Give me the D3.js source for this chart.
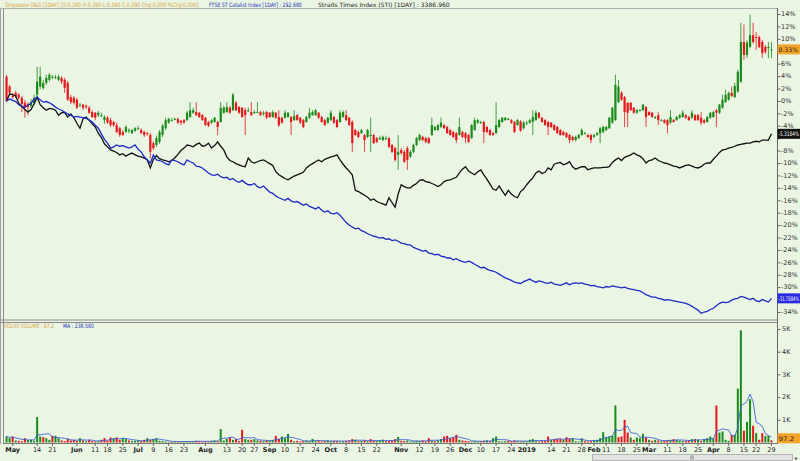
<!DOCTYPE html>
<html>
<head>
<meta charset="utf-8">
<script src="https://cdn.jsdelivr.net/npm/d3@7"></script>
<style>
body { margin: 0; background: #eaf5e4; }
svg { display: block; font-family: "DejaVu Sans", Verdana, sans-serif; }
</style>
</head>
<body>
<div id="chart-area"></div>
<script>
// SGX trading days skipped (public holidays)
var holidays = ["2018-05-01", "2018-05-29", "2018-06-15", "2018-08-09", "2018-08-22",
    "2018-11-06", "2018-12-25", "2019-01-01", "2019-02-05", "2019-02-06", "2019-04-19"];

// Singapore O&G, % change from first close
var openPct = [
    3.9, 2.3, 0.8, 1.3, 1.0, 0.5, -0.3, -0.5, -0.8, -0.3,
    1.0, 2.3, 2.1, 2.9, 3.4, 3.9, 3.9, 3.4, 3.7, 3.4,
    2.9, 0.6, 0.5, 0.2, -0.6, -0.6, -0.8, -1.1, -1.8, -1.9,
    -2.3, -2.3, -3.1, -2.7, -3.1, -3.4, -3.9, -4.4, -5.0, -5.0,
    -4.8, -5.2, -4.8, -4.4, -4.7, -5.0, -5.2, -5.5, -6.8, -7.1,
    -6.6, -5.5, -4.4, -3.5, -3.1, -2.9, -2.9, -3.2, -3.1, -3.1,
    -2.6, -1.9, -1.8, -1.9, -2.3, -2.7, -3.4, -3.5, -3.4, -3.4,
    -3.4, -1.9, -1.8, -1.1, -1.5, -0.3, -1.0, -1.1, -1.5, -1.5,
    -1.8, -1.9, -1.8, -1.8, -2.1, -1.8, -1.9, -2.6, -1.9, -2.6,
    -2.7, -2.7, -2.6, -2.6, -3.1, -2.3, -2.7, -3.1, -3.4, -2.7,
    -2.3, -2.3, -1.9, -2.6, -3.1, -3.5, -3.1, -2.6, -3.1, -3.4,
    -2.6, -2.3, -2.7, -3.4, -4.7, -5.0, -5.2, -5.5, -5.8, -5.5,
    -5.5, -6.0, -6.0, -6.3, -6.0, -6.0, -7.1, -7.6, -8.7, -7.9,
    -8.2, -7.6, -9.0, -8.2, -7.1, -6.3, -5.8, -6.0, -6.0, -5.5,
    -4.7, -4.7, -4.2, -3.9, -4.2, -4.7, -5.0, -5.2, -5.5, -5.0,
    -5.2, -5.5, -6.0, -4.7, -3.5, -3.5, -3.4, -4.2, -4.7, -5.2,
    -5.2, -4.2, -3.4, -3.1, -2.9, -3.1, -3.4, -3.9, -3.3, -4.4,
    -3.5, -3.5, -3.4, -3.1, -1.9, -2.7, -3.1, -3.4, -3.5, -3.9,
    -4.2, -4.7, -5.0, -5.2, -5.5, -5.8, -6.3, -6.0, -5.5, -5.2,
    -5.5, -5.5, -5.8, -5.5, -5.2, -5.0, -4.7, -4.4, -3.5, -3.1,
    -0.2, 1.3, 0.6, -0.3, -0.3, -1.1, -1.9, -1.5, -1.5, -1.0,
    -1.8, -1.9, -2.6, -2.3, -3.1, -3.1, -3.1, -3.5, -3.1, -3.1,
    -2.7, -2.6, -2.3, -2.6, -2.7, -2.3, -2.3, -2.7, -3.1, -3.4,
    -2.7, -2.6, -1.5, -1.9, -1.1, -0.2, 0.2, 1.3, 0.6, 1.5,
    3.1, 9.5, 7.4, 8.7, 10.6, 10.3, 10.3, 9.5, 8.7, 8.5, 8.3];
var highPct = [
    4.2, 2.6, 1.3, 1.6, 1.3, 0.8, 0.2, -0.2, 0.3, 1.0,
    5.5, 5.5, 3.4, 4.2, 4.5, 4.2, 4.2, 4.2, 4.0, 3.7,
    3.2, 1.0, 0.8, 0.5, -0.3, -0.5, -0.6, -0.8, -1.5, -1.8,
    -1.6, -1.9, -2.3, -2.4, -2.7, -3.2, -3.5, -4.2, -4.7, -3.9,
    -4.4, -4.5, -4.2, -4.0, -4.4, -4.8, -5.0, -5.2, -6.5, -5.6,
    -4.7, -3.7, -2.7, -2.7, -2.7, -2.7, -2.7, -3.1, -2.9, -1.6,
    -0.2, -1.1, -0.2, -1.8, -2.1, -2.6, -3.2, -2.9, -2.6, -3.2,
    -0.2, -0.8, -0.2, -0.8, 1.3, 0.0, -0.8, -1.0, -1.1, -1.1,
    -0.2, -1.5, -0.2, -1.6, -1.6, -1.6, -1.8, -1.5, -1.8, -1.5,
    -2.6, -1.5, -1.8, -2.4, -1.5, -2.1, -2.6, -2.9, -2.4, -1.1,
    -1.5, -1.3, -1.8, -2.4, -2.9, -2.6, -1.5, -2.4, -2.9, -1.5,
    -1.5, -1.5, -2.6, -3.1, -4.5, -4.8, -4.5, -5.3, -4.5, -2.7,
    -5.3, -5.8, -5.6, -5.6, -5.6, -5.8, -6.9, -7.4, -5.5, -7.6,
    -7.9, -7.3, -7.9, -6.9, -5.8, -5.3, -5.6, -5.8, -5.8, -2.7,
    -4.0, -3.7, -2.7, -3.7, -4.0, -4.5, -4.8, -5.0, -2.7, -4.8,
    -5.0, -5.3, -3.7, -2.7, -2.9, -3.2, -3.2, -4.0, -4.5, -5.0,
    -0.2, -2.9, -2.6, -2.6, -2.7, -2.9, -3.2, -2.9, -3.1, -3.2,
    -3.2, -2.9, -1.5, -1.5, -1.8, -2.6, -2.9, -3.2, -3.4, -3.7,
    -4.0, -4.5, -4.8, -5.0, -5.3, -5.6, -5.6, -5.3, -4.4, -5.0,
    -5.3, -5.3, -5.3, -5.0, -4.2, -4.0, -4.0, -2.6, -1.0, 4.2,
    3.4, 1.6, 0.8, -0.2, -0.2, -1.0, -1.3, -1.3, -0.5, -0.8,
    -1.6, -1.8, -2.4, -1.8, -2.9, -2.9, -2.9, -1.5, -2.9, -2.4,
    -2.1, -1.5, -2.1, -2.4, -1.5, -2.1, -2.1, -1.8, -2.9, -2.4,
    -1.8, -1.6, -1.3, -0.5, 1.0, 1.8, 1.5, 2.3, 2.9, 5.0,
    12.6, 12.3, 9.8, 13.9, 12.6, 11.1, 10.5, 9.8, 9.0, 9.5, 9.5];
var lowPct = [
    -0.2, 0.8, 0.3, 0.5, 0.2, -1.8, -2.7, -2.3, -1.1, -0.6,
    0.6, 1.9, 1.8, 2.6, 3.1, 3.5, 3.5, 3.2, 2.7, 1.3,
    0.0, -0.5, -0.6, -1.3, -1.0, -1.5, -1.3, -2.1, -2.7, -3.1,
    -2.6, -2.6, -3.7, -3.7, -4.2, -4.2, -5.2, -5.8, -5.6, -5.2,
    -5.2, -5.3, -5.0, -4.7, -5.3, -5.8, -5.6, -9.2, -7.9, -7.4,
    -6.9, -5.8, -4.7, -3.7, -3.2, -3.1, -3.7, -3.9, -3.7, -3.2,
    -2.7, -2.1, -2.4, -2.7, -3.2, -4.0, -4.2, -3.7, -3.5, -5.5,
    -3.5, -2.1, -1.9, -2.1, -1.6, -1.6, -2.1, -2.7, -5.5, -1.8,
    -2.4, -2.1, -1.9, -2.4, -2.4, -2.9, -2.7, -2.7, -2.9, -4.2,
    -3.7, -2.9, -2.7, -5.5, -3.2, -3.2, -3.7, -4.4, -3.5, -2.9,
    -2.4, -2.4, -2.9, -3.5, -4.0, -3.7, -3.2, -3.7, -4.4, -3.5,
    -2.7, -3.2, -4.0, -8.2, -5.6, -6.0, -5.3, -8.2, -6.0, -8.2,
    -6.9, -6.8, -6.3, -6.5, -6.3, -7.6, -8.4, -9.8, -11.1, -8.7,
    -10.0, -11.1, -9.2, -8.4, -7.3, -6.5, -6.5, -6.8, -6.9, -5.6,
    -4.8, -4.8, -4.4, -4.5, -5.3, -5.6, -6.0, -6.8, -5.6, -6.0,
    -6.8, -6.8, -6.1, -4.8, -3.7, -3.7, -6.8, -5.2, -5.6, -5.6,
    -5.3, -4.4, -3.5, -3.2, -3.1, -3.7, -5.2, -4.0, -5.0, -4.6,
    -3.9, -3.7, -5.5, -3.2, -2.9, -3.5, -4.0, -5.5, -4.4, -4.8,
    -5.3, -5.6, -5.6, -6.0, -6.8, -6.5, -6.5, -6.1, -5.6, -5.3,
    -6.0, -6.8, -6.0, -5.6, -6.8, -5.2, -4.8, -4.5, -3.7, -3.2,
    -0.3, 0.0, -4.2, -4.2, -1.6, -2.1, -2.1, -1.6, -1.6, -4.2,
    -2.4, -2.7, -2.9, -3.9, -3.2, -3.7, -5.2, -3.7, -3.5, -3.2,
    -2.9, -2.7, -2.9, -3.2, -2.9, -3.2, -3.2, -3.9, -3.7, -3.5,
    -2.9, -2.7, -4.2, -2.1, -1.3, -0.3, 0.0, 0.6, 0.5, 1.3,
    2.9, 6.6, 6.9, 8.5, 9.2, 8.2, 8.5, 6.9, 7.6, 6.9, 6.9];
var closePct = [
    0.0, 1.3, 0.6, 0.8, 0.5, -0.5, -1.1, -1.0, -0.2, 0.5,
    3.1, 3.9, 2.9, 3.7, 4.2, 3.9, 3.9, 3.9, 3.1, 2.1,
    0.2, -0.2, -0.3, -1.1, -0.6, -1.1, -1.0, -1.9, -2.6, -2.7,
    -1.9, -2.3, -2.6, -3.5, -3.9, -3.9, -5.0, -5.5, -5.5, -4.2,
    -4.7, -4.7, -4.4, -4.4, -5.2, -5.5, -5.3, -8.2, -7.6, -6.0,
    -5.0, -4.0, -3.1, -2.9, -3.1, -2.9, -3.5, -3.5, -3.5, -1.9,
    -1.5, -1.5, -2.3, -2.6, -3.1, -3.9, -4.0, -3.1, -2.7, -4.2,
    -1.1, -1.1, -1.0, -1.9, 1.0, -1.5, -1.9, -2.6, -2.3, -1.5,
    -2.3, -1.8, -1.8, -2.3, -1.9, -2.7, -2.6, -1.8, -2.7, -3.9,
    -3.5, -1.9, -1.9, -3.4, -2.4, -3.1, -3.5, -4.2, -2.6, -1.9,
    -1.8, -1.5, -2.7, -3.4, -3.9, -2.7, -1.9, -3.5, -4.2, -1.9,
    -1.8, -3.1, -3.9, -6.8, -5.5, -5.8, -4.7, -6.3, -4.7, -5.5,
    -6.8, -6.6, -6.0, -5.8, -6.0, -7.4, -8.2, -9.5, -8.2, -8.4,
    -9.8, -9.5, -8.2, -7.1, -6.0, -5.5, -6.3, -6.6, -6.8, -3.9,
    -4.2, -3.9, -3.5, -4.4, -5.2, -5.5, -5.8, -6.3, -4.2, -5.8,
    -6.0, -6.6, -3.9, -3.1, -3.1, -3.4, -5.0, -5.0, -5.5, -5.5,
    -3.9, -3.1, -2.7, -2.7, -2.9, -3.5, -5.0, -3.1, -4.8, -3.5,
    -3.5, -3.1, -2.6, -1.9, -2.7, -3.4, -3.9, -4.2, -4.2, -4.7,
    -5.2, -5.5, -5.5, -5.8, -6.3, -6.3, -5.8, -5.5, -4.7, -5.2,
    -5.8, -6.3, -5.5, -5.2, -4.4, -4.2, -4.2, -2.7, -1.1, 2.6,
    2.3, 0.2, -1.8, -1.9, -1.5, -1.9, -1.5, -1.5, -0.6, -2.6,
    -2.3, -2.6, -2.6, -3.1, -3.1, -3.5, -3.9, -2.6, -3.4, -2.6,
    -2.3, -1.9, -2.7, -3.1, -1.9, -3.1, -3.1, -3.5, -3.5, -2.6,
    -1.9, -1.8, -1.9, -0.6, 0.2, 1.0, 1.3, 0.8, 2.4, 4.7,
    9.5, 7.4, 9.4, 10.6, 9.5, 10.2, 8.7, 7.7, 7.9, 8.7, 8.3];

// FTSE ST Catalist Index, % change
var catalistPct = [
    0.0, 0.3, 0.1, -0.1, -0.6, -0.9, -1.0, -0.7, -0.4, 0.3,
    0.6, 0.2, -0.2, -0.1, -0.3, -0.6, -1.0, -1.3, -1.5, -1.8,
    -2.1, -2.3, -2.6, -2.5, -2.6, -2.7, -2.8, -3.1, -3.4, -3.9,
    -4.4, -5.3, -6.2, -6.8, -7.6, -7.4, -7.1, -7.3, -7.2, -7.4,
    -7.6, -7.4, -7.1, -7.8, -8.2, -9.0, -9.5, -10.0, -8.7, -9.5,
    -9.6, -9.8, -10.1, -10.3, -9.5, -9.6, -9.8, -10.1, -10.3, -9.5,
    -9.8, -10.0, -10.5, -10.6, -10.8, -11.2, -11.6, -11.9, -12.0, -11.8,
    -12.2, -12.4, -12.3, -12.7, -12.5, -12.9, -13.1, -12.8, -13.2, -13.5,
    -13.5, -13.3, -13.8, -14.0, -13.7, -14.2, -14.7, -14.9, -15.3, -15.6,
    -15.8, -16.0, -15.7, -16.1, -16.3, -16.2, -16.5, -16.8, -16.6, -17.0,
    -17.2, -17.4, -17.1, -17.6, -17.9, -17.7, -18.1, -18.2, -18.0, -18.4,
    -19.0, -19.6, -20.0, -20.3, -20.6, -20.5, -20.9, -21.1, -21.4, -21.6,
    -21.8, -21.9, -22.1, -22.0, -22.3, -22.2, -22.5, -22.4, -22.6, -22.9,
    -23.0, -23.2, -23.2, -23.6, -23.8, -24.0, -24.2, -24.1, -24.5, -24.6,
    -24.8, -24.7, -25.0, -25.1, -25.3, -25.3, -25.6, -25.4, -25.7, -25.9,
    -26.0, -25.8, -26.0, -26.3, -26.6, -26.9, -26.8, -27.1, -27.3, -27.4,
    -27.6, -27.9, -28.2, -28.5, -28.7, -28.9, -29.2, -29.3, -29.4, -29.1,
    -28.9, -28.7, -29.0, -29.2, -29.0, -29.1, -29.3, -29.4, -29.2, -29.5,
    -29.6, -29.7, -29.5, -29.3, -29.6, -29.4, -29.3, -29.4, -29.3, -29.5,
    -29.6, -29.8, -29.7, -29.9, -30.0, -30.1, -29.9, -30.0, -29.8, -29.9,
    -30.0, -30.1, -30.0, -30.2, -30.3, -30.4, -30.5, -30.6, -30.9, -31.2,
    -31.4, -31.6, -31.6, -31.8, -31.9, -32.1, -32.0, -32.1, -32.2, -32.3,
    -32.4, -32.5, -32.6, -32.8, -33.1, -33.4, -33.7, -34.2, -34.0, -33.9,
    -33.6, -33.4, -33.0, -32.6, -32.4, -32.5, -32.4, -32.1, -31.9, -31.8,
    -31.5, -31.6, -31.8, -32.0, -31.8, -32.2, -32.3, -32.0, -32.2, -32.4, -31.8];

// Straits Times Index, % change
var stiPct = [
    0.0, 1.1, 1.0, 0.8, -0.4, -0.9, -1.4, -1.8, -1.4, -0.5,
    0.6, -0.6, -1.1, -1.5, -1.2, -1.3, -1.5, -2.3, -1.9, -1.9,
    -2.6, -2.1, -2.7, -3.6, -4.4, -2.9, -2.6, -3.1, -3.7, -4.2,
    -5.2, -5.9, -6.9, -7.4, -7.9, -8.1, -8.3, -8.7, -8.5, -8.9,
    -8.6, -8.4, -8.7, -8.9, -9.0, -9.2, -9.5, -10.8, -9.4, -8.8,
    -9.3, -9.5, -9.6, -9.8, -9.6, -9.2, -8.6, -8.0, -7.6, -7.1,
    -7.2, -7.4, -7.0, -6.8, -7.3, -7.2, -6.8, -7.6, -7.2, -6.6,
    -7.3, -7.9, -9.0, -9.6, -9.8, -10.1, -10.3, -10.5, -10.6, -9.2,
    -9.8, -10.0, -9.8, -9.6, -9.5, -9.8, -10.1, -10.4, -11.4, -11.9,
    -12.2, -12.5, -12.7, -12.4, -12.1, -11.9, -11.7, -11.5, -10.8, -10.4,
    -10.1, -9.8, -9.5, -9.8, -9.4, -9.2, -9.0, -8.9, -8.7, -9.5,
    -10.2, -10.8, -11.3, -11.9, -14.4, -14.6, -14.9, -15.2, -15.5, -16.0,
    -15.8, -16.2, -16.4, -16.6, -16.8, -15.6, -16.4, -17.1, -15.0, -13.5,
    -13.8, -14.0, -14.0, -13.6, -13.3, -12.8, -12.7, -13.0, -13.1, -13.3,
    -13.5, -13.8, -13.5, -13.0, -12.8, -12.7, -12.5, -12.3, -11.6, -11.0,
    -10.6, -11.3, -11.6, -11.9, -11.4, -11.1, -11.9, -12.6, -13.4, -14.2,
    -14.4, -13.7, -14.5, -15.2, -14.4, -15.0, -15.4, -15.6, -14.6, -14.2,
    -13.5, -12.9, -12.4, -11.6, -11.3, -11.7, -11.5, -10.8, -11.1, -10.2,
    -10.0, -9.9, -10.3, -10.1, -9.8, -10.6, -11.0, -10.8, -10.6, -10.6,
    -11.1, -10.9, -10.8, -10.8, -10.8, -10.7, -10.7, -10.6, -9.9, -9.5,
    -9.2, -9.6, -9.1, -8.9, -8.7, -8.4, -8.7, -8.9, -9.3, -10.0,
    -9.6, -9.5, -9.2, -9.6, -9.8, -10.0, -10.1, -10.3, -10.5, -10.6,
    -10.8, -10.6, -10.4, -10.3, -10.5, -10.7, -10.8, -10.6, -10.2, -10.0,
    -10.0, -9.4, -8.9, -8.3, -7.9, -7.8, -7.6, -7.5, -7.3, -7.1,
    -7.0, -6.9, -6.8, -6.8, -6.6, -6.5, -6.6, -6.3, -6.3, -6.3, -5.3];

// volume (lots)
var volume = [
    265, 190, 265, 90, 75, 60, 190, 120, 120, 80,
    1120, 265, 235, 190, 120, 295, 295, 190, 90, 60,
    160, 90, 120, 75, 190, 90, 60, 120, 60, 45,
    60, 120, 190, 75, 220, 190, 220, 120, 190, 150,
    90, 60, 75, 90, 60, 120, 190, 120, 160, 190,
    75, 60, 45, 30, 45, 60, 30, 45, 30, 60,
    45, 60, 75, 45, 30, 60, 45, 75, 90, 60,
    590, 90, 160, 220, 120, 150, 60, 560, 150, 120,
    120, 150, 90, 75, 60, 90, 75, 120, 295, 160,
    265, 190, 380, 120, 60, 75, 45, 60, 90, 60,
    160, 60, 75, 45, 60, 90, 60, 75, 60, 45,
    60, 75, 90, 150, 120, 60, 75, 90, 60, 150,
    75, 60, 90, 120, 60, 75, 90, 150, 240, 75,
    60, 90, 45, 60, 75, 60, 90, 60, 190, 90,
    60, 90, 150, 265, 295, 190, 235, 340, 120, 90,
    75, 60, 45, 60, 45, 60, 75, 90, 60, 190,
    265, 60, 45, 60, 75, 60, 90, 60, 45, 60,
    45, 120, 150, 60, 45, 60, 75, 265, 120, 150,
    160, 150, 120, 235, 160, 190, 60, 45, 190, 60,
    45, 60, 90, 120, 190, 455, 220, 265, 295, 1630,
    235, 265, 1000, 440, 220, 120, 220, 190, 380, 235,
    120, 75, 120, 90, 60, 75, 90, 120, 150, 120,
    90, 60, 75, 90, 150, 150, 120, 60, 150, 190,
    265, 190, 1630, 440, 485, 120, 75, 340, 340, 2370,
    4940, 515, 910, 1910, 735, 410, 120, 410, 295, 295, 97.2];

var pctTicks = [14, 12, 10, 8, 6, 4, 2, 0, -2, -4, -6, -8, -10, -12, -14, -16, -18,
    -20, -22, -24, -26, -28, -30, -32, -34];
var volTicks = [1000, 2000, 3000, 4000, 5000];
var volTickLabels = ["1K", "2K", "3K", "4K", "5K"];

// date axis labels: [date, text, month?]
var dateLabels = [
    ["2018-05-02", "May", 1], ["2018-05-14", "14", 0], ["2018-05-21", "21", 0],
    ["2018-06-01", "Jun", 1], ["2018-06-11", "11", 0], ["2018-06-18", "18", 0], ["2018-06-25", "25", 0],
    ["2018-07-02", "Jul", 1], ["2018-07-09", "9", 0], ["2018-07-16", "16", 0], ["2018-07-23", "23", 0],
    ["2018-08-01", "Aug", 1], ["2018-08-13", "13", 0], ["2018-08-20", "20", 0], ["2018-08-27", "27", 0],
    ["2018-09-03", "Sep", 1], ["2018-09-10", "10", 0], ["2018-09-17", "17", 0], ["2018-09-24", "24", 0],
    ["2018-10-01", "Oct", 1], ["2018-10-08", "8", 0], ["2018-10-15", "15", 0], ["2018-10-22", "22", 0],
    ["2018-11-01", "Nov", 1], ["2018-11-12", "12", 0], ["2018-11-19", "19", 0], ["2018-11-26", "26", 0],
    ["2018-12-03", "Dec", 1], ["2018-12-10", "10", 0], ["2018-12-17", "17", 0], ["2018-12-24", "24", 0],
    ["2019-01-02", "2019", 1], ["2019-01-14", "14", 0], ["2019-01-21", "21", 0], ["2019-01-28", "28", 0],
    ["2019-02-01", "Feb", 1], ["2019-02-11", "11", 0], ["2019-02-18", "18", 0], ["2019-02-25", "25", 0],
    ["2019-03-01", "Mar", 1], ["2019-03-11", "11", 0], ["2019-03-18", "18", 0], ["2019-03-25", "25", 0],
    ["2019-04-01", "Apr", 1], ["2019-04-08", "8", 0], ["2019-04-15", "15", 0], ["2019-04-22", "22", 0],
    ["2019-04-29", "29", 0]];

var lastClose = "8.33%", lastSti = "-5.3184%", lastCat = "-31.7884%", lastVol = "97.2";

var width = 800, height = 461;
var upColor = "#1b8a1b", downColor = "#e5171b";

var parse = d3.timeParse("%Y-%m-%d"), fmt = d3.timeFormat("%Y-%m-%d");
var days = d3.timeDay.range(parse("2018-04-27"), parse("2019-04-30"))
    .filter(d => d.getDay() > 0 && d.getDay() < 6 && holidays.indexOf(fmt(d)) < 0)
    .map(fmt);

var n = Math.min(days.length, closePct.length);
var data = [];
for (var i = 0; i < n; i++) {
    data.push({
        date: days[i], o: openPct[i], h: highPct[i], l: lowPct[i], c: closePct[i],
        cat: catalistPct[i], sti: stiPct[i], vol: volume[i],
        up: i == 0 ? true : closePct[i] >= closePct[i - 1]
    });
}
// 5-day moving average of volume
data.forEach((d, i) => {
    var w = data.slice(Math.max(0, i - 4), i + 1);
    d.ma = d3.mean(w, e => e.vol);
});

var svg = d3.select("#chart-area").append("svg")
    .attr("width", width)
    .attr("height", height);

svg.append("rect").attr("width", width).attr("height", height).attr("fill", "#eaf5e4");

var x = d3.scaleBand()
    .domain(days.slice(0, n))
    .range([4.5, 772.5]);
var cx = d => x(d) + x.bandwidth() / 2;

var y = d3.scaleLinear()
    .domain([-34, 14])
    .range([312, 14]);

var yv = d3.scaleLinear()
    .domain([0, 5000])
    .range([442.5, 329]);

// frame
var frame = svg.append("g").attr("fill", "none");
frame.append("line").attr("x1", 0.5).attr("x2", 0.5).attr("y1", 8).attr("y2", 444).attr("stroke", "#a0a0a0");
frame.append("line").attr("x1", 3.5).attr("x2", 3.5).attr("y1", 8).attr("y2", 444).attr("stroke", "#8a8a8a");
frame.append("line").attr("x1", 0).attr("x2", 777).attr("y1", 8.5).attr("y2", 8.5).attr("stroke", "#b0b0b0");
frame.append("line").attr("x1", 0).attr("x2", 777).attr("y1", 320).attr("y2", 320).attr("stroke", "#8a8a8a");
frame.append("line").attr("x1", 0).attr("x2", 777).attr("y1", 322.5).attr("y2", 322.5).attr("stroke", "#8a8a8a");
frame.append("line").attr("x1", 3).attr("x2", 777).attr("y1", 443.5).attr("y2", 443.5).attr("stroke", "#777");
frame.append("line").attr("x1", 777.5).attr("x2", 777.5).attr("y1", 8).attr("y2", 444).attr("stroke", "#666");

// y positions of the value tags; axis labels under them are covered
var tagYs = [y(closePct[n - 1]), y(stiPct[n - 1]), y(catalistPct[n - 1])];
var shownTicks = pctTicks.filter(t => tagYs.every(ty => Math.abs(y(t) - ty) > 7));

// right % axis
var pAxis = svg.append("g").attr("font-size", 6.5).attr("fill", "#333");
pAxis.selectAll("line").data(pctTicks).enter().append("line")
    .attr("x1", 777.5).attr("x2", 780.5)
    .attr("y1", d => y(d) + 0.5).attr("y2", d => y(d) + 0.5)
    .attr("stroke", "#666");
pAxis.selectAll("text").data(shownTicks).enter().append("text")
    .attr("x", 781).attr("y", d => y(d) + 2.3)
    .text(d => d + "%");

// volume axis
var vAxis = svg.append("g").attr("font-size", 6.5).attr("fill", "#333");
vAxis.selectAll("line").data(volTicks).enter().append("line")
    .attr("x1", 777.5).attr("x2", 780.5)
    .attr("y1", d => yv(d) + 0.5).attr("y2", d => yv(d) + 0.5)
    .attr("stroke", "#666");
vAxis.selectAll("text").data(volTicks).enter().append("text")
    .attr("x", 782).attr("y", d => yv(d) + 2.3)
    .text((d, i) => volTickLabels[i]);

// candles
var candles = svg.append("g");
candles.selectAll("line").data(data).enter().append("line")
    .attr("x1", d => cx(d.date) + 0.5).attr("x2", d => cx(d.date) + 0.5)
    .attr("y1", d => y(Math.max(d.h, d.o, d.c)))
    .attr("y2", d => y(Math.min(d.l, d.o, d.c)))
    .attr("stroke", d => d.c >= d.o ? upColor : downColor)
    .attr("stroke-width", 0.8);
candles.selectAll("rect").data(data).enter().append("rect")
    .attr("x", d => cx(d.date) - 0.6)
    .attr("width", 2.2)
    .attr("y", d => y(Math.max(d.o, d.c)))
    .attr("height", d => Math.max(1, Math.abs(y(d.o) - y(d.c))))
    .attr("fill", d => d.c >= d.o ? upColor : downColor);

// index lines
var line = d3.line().x(d => cx(d.date) + 0.5);
svg.append("path")
    .attr("d", line.y(d => y(d.sti))(data))
    .attr("fill", "none").attr("stroke", "#111").attr("stroke-width", 1.3);
svg.append("path")
    .attr("d", line.y(d => y(d.cat))(data))
    .attr("fill", "none").attr("stroke", "#1f2bc4").attr("stroke-width", 1.3);

// volume bars
svg.append("g").selectAll("rect").data(data).enter().append("rect")
    .attr("x", d => cx(d.date) - 0.5)
    .attr("width", 2)
    .attr("y", d => yv(d.vol))
    .attr("height", d => yv(0) - yv(d.vol))
    .attr("fill", d => d.up ? upColor : downColor);

svg.append("path")
    .attr("d", d3.line().x(d => cx(d.date) + 0.5).y(d => yv(d.ma))(data))
    .attr("fill", "none").attr("stroke", "#3f62d6").attr("stroke-width", 0.9);

// date labels
var xl = svg.append("g").attr("font-size", 6.5).attr("fill", "#222").attr("text-anchor", "middle");
xl.selectAll("line").data(dateLabels).enter().append("line")
    .attr("x1", d => cx(d[0]) + 0.5).attr("x2", d => cx(d[0]) + 0.5)
    .attr("y1", 443.5).attr("y2", 446)
    .attr("stroke", "#666");
xl.selectAll("text").data(dateLabels).enter().append("text")
    .attr("x", d => cx(d[0]) + 0.5).attr("y", 452)
    .attr("font-weight", d => d[2] ? "bold" : "normal")
    .text(d => d[1]);

// squeeze a text horizontally so it spans exactly w pixels from (x0, y0)
function squeezed(parent, x0, y0, w, size, color, label) {
    var g = parent.append("g");
    var t = g.append("text").attr("font-size", size).attr("fill", color).text(label);
    var natural = t.node().getComputedTextLength();
    g.attr("transform", "translate(" + x0 + "," + y0 + ") scale(" + (w / natural) + ",1)");
    return g;
}

// value tags on the right
function tag(yy, label, bg, fg) {
    svg.append("rect").attr("x", 777.5).attr("y", yy - 5).attr("width", 22.5).attr("height", 10).attr("fill", bg);
    var w = label.length > 5 ? 20.5 : label.length * 3.9;
    squeezed(svg, 778.5, yy + 2.3, w, 6.2, fg, label);
}
tag(tagYs[0], lastClose, "#f2a32a", "#222");
tag(tagYs[1], lastSti, "#111", "#fff");
tag(tagYs[2], lastCat, "#2a2ae0", "#fff");
tag(yv(volume[n - 1]) - 2, lastVol, "#f2a32a", "#222");

// legends
squeezed(svg, 5, 6.5, 194, 6, "#e0a23a",
    "Singapore O&G [1DAY] [O:0.390 H:0.390 L:0.390 C:0.390 Chg:0.000 %Chg:0.000]");
squeezed(svg, 209, 6.5, 93, 6, "#2430b8", "FTSE ST Catalist Index [1DAY] : 292.680");
squeezed(svg, 318, 6.5, 132, 6, "#222", "Straits Times Index (STI) [1DAY] : 3386.960");
squeezed(svg, 4, 327.5, 50, 6, "#e0a23a", "VOL(0) VOLUME : 97.2");
squeezed(svg, 63, 327.5, 31, 6, "#2430b8", "MA : 238.580");

// scrollbar at bottom
svg.append("rect").attr("x", 592.5).attr("y", 454.5).attr("width", 200).attr("height", 6)
    .attr("fill", "#e3e3e3").attr("stroke", "#b5b5b5");
svg.append("rect").attr("x", 690).attr("y", 455.5).attr("width", 4).attr("height", 4).attr("fill", "#b0b0b0");
svg.append("text").attr("x", 795).attr("y", 460).attr("font-size", 6).attr("fill", "#555").text("▸");
</script>
</body>
</html>
